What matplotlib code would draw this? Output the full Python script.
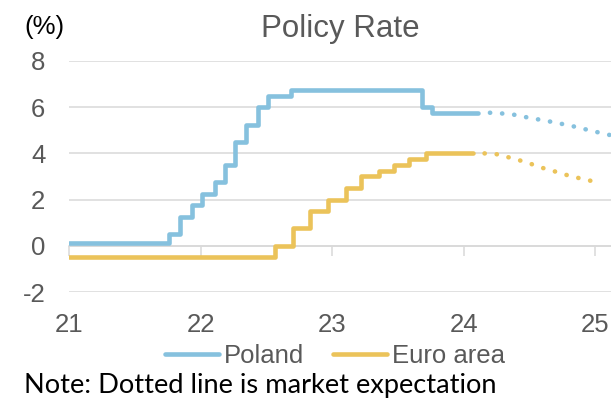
import matplotlib
matplotlib.use("Agg")
import matplotlib.pyplot as plt
import pandas as pd

# Policy rate decisions (date the new rate applies, rate in %)
pl_dates = ["2021-01-01", "2021-10-07", "2021-11-04", "2021-12-09", "2022-01-05",
            "2022-02-09", "2022-03-09", "2022-04-07", "2022-05-06", "2022-06-09",
            "2022-07-08", "2022-09-08", "2023-09-07", "2023-10-05", "2024-02-10"]
pl_rates = [0.10, 0.50, 1.25, 1.75, 2.25, 2.75, 3.50, 4.50, 5.25, 6.00,
            6.50, 6.75, 6.00, 5.75, 5.75]

ea_dates = ["2021-01-01", "2022-07-27", "2022-09-14", "2022-11-02", "2022-12-21",
            "2023-02-08", "2023-03-22", "2023-05-10", "2023-06-21", "2023-08-02",
            "2023-09-20", "2024-01-28"]
ea_rates = [-0.50, 0.00, 0.75, 1.50, 2.00, 2.50, 3.00, 3.25, 3.50, 3.75, 4.00, 4.00]

# Market expectations (dotted)
pl_exp_dates = ["2024-03-14", "2024-04-15", "2024-05-15", "2024-06-15", "2024-07-15",
                "2024-08-15", "2024-09-15", "2024-10-15", "2024-11-15", "2024-12-15",
                "2025-01-15", "2025-02-15"]
pl_exp = [5.76, 5.73, 5.69, 5.59, 5.50, 5.42, 5.32, 5.23, 5.12, 5.00, 4.89, 4.78]

ea_exp_dates = ["2024-02-28", "2024-03-31", "2024-04-30", "2024-05-31", "2024-06-30",
                "2024-07-31", "2024-08-31", "2024-09-30", "2024-10-31", "2024-11-30",
                "2024-12-20"]
ea_exp = [4.00, 3.97, 3.85, 3.72, 3.58, 3.40, 3.27, 3.12, 2.99, 2.88, 2.81]

year_ticks = [21, 22, 23, 24, 25]
y_ticks = [-2, 0, 2, 4, 6, 8]

BLUE = "#86C1DE"
GOLD = "#EBC35A"
GRAY = "#595959"
GRID = "#D9D9D9"


def to_years(dates):
    # decimal years since 2000, so 2021-01-01 -> 21.0
    d = pd.to_datetime(pd.Series(dates))
    return (d.dt.year - 2000 + (d.dt.dayofyear - 1) / 365.25).to_numpy()


plt.rcParams["font.family"] = ["Liberation Sans", "DejaVu Sans"]

fig = plt.figure(figsize=(6.11, 3.99), dpi=100)
ax = fig.add_axes([69 / 611, 1 - 292 / 399, 1 - 69 / 611, (292 - 61) / 399])

lw = 3.3
ax.step(to_years(pl_dates), pl_rates, where="post", color=BLUE, lw=lw,
        solid_joinstyle="round", solid_capstyle="round", label="Poland", zorder=3)
ax.step(to_years(ea_dates), ea_rates, where="post", color=GOLD, lw=lw,
        solid_joinstyle="round", solid_capstyle="round", label="Euro area", zorder=3)
ax.plot(to_years(pl_exp_dates), pl_exp, color=BLUE, lw=lw, dashes=(0.05, 2.6),
        dash_capstyle="round", zorder=3)
ax.plot(to_years(ea_exp_dates), ea_exp, color=GOLD, lw=lw, dashes=(0.05, 2.6),
        dash_capstyle="round", zorder=3)

ax.set_xlim(21, 25.12)
ax.set_ylim(-2, 8)
ax.set_yticks(y_ticks)
ax.set_yticklabels([str(v) for v in y_ticks])
ax.yaxis.grid(True, color=GRID, lw=1.1)
ax.set_axisbelow(True)
ax.tick_params(axis="y", length=0, pad=17, labelsize=18.5, labelcolor=GRAY)

for s in ["left", "right", "top"]:
    ax.spines[s].set_visible(False)
ax.spines["bottom"].set_position(("data", 0))
ax.spines["bottom"].set_color(GRID)
ax.spines["bottom"].set_linewidth(1.1)
ax.set_xticks(year_ticks)
ax.tick_params(axis="x", direction="out", length=7, width=1.1, color=GRID,
               labelbottom=False)

sec = ax.secondary_xaxis(0)
sec.set_xticks(year_ticks)
sec.set_xticklabels([str(v) for v in year_ticks])
sec.tick_params(length=0, pad=15, labelsize=18.5, labelcolor=GRAY)
sec.spines["bottom"].set_visible(False)

ax.set_title("Policy Rate", fontsize=22.5, color=GRAY, pad=17)
fig.text(44 / 611, 1 - 27 / 399, "(%)", fontsize=18.5, color="black",
         ha="center", va="center")

ax.legend(loc="center", bbox_to_anchor=(335 / 611, 1 - 356 / 399),
          bbox_transform=fig.transFigure, ncol=2, frameon=False,
          fontsize=18.5, labelcolor=GRAY, handlelength=2.1,
          handletextpad=0.2, columnspacing=1.1, borderpad=0, borderaxespad=0)

fig.text(24 / 611, 1 - 385 / 399, "Note: Dotted line is market expectation",
         fontsize=19.6, color="black", ha="left", va="center",
         family=["Lato", "DejaVu Sans"])

fig.savefig("out.png", dpi=100)
